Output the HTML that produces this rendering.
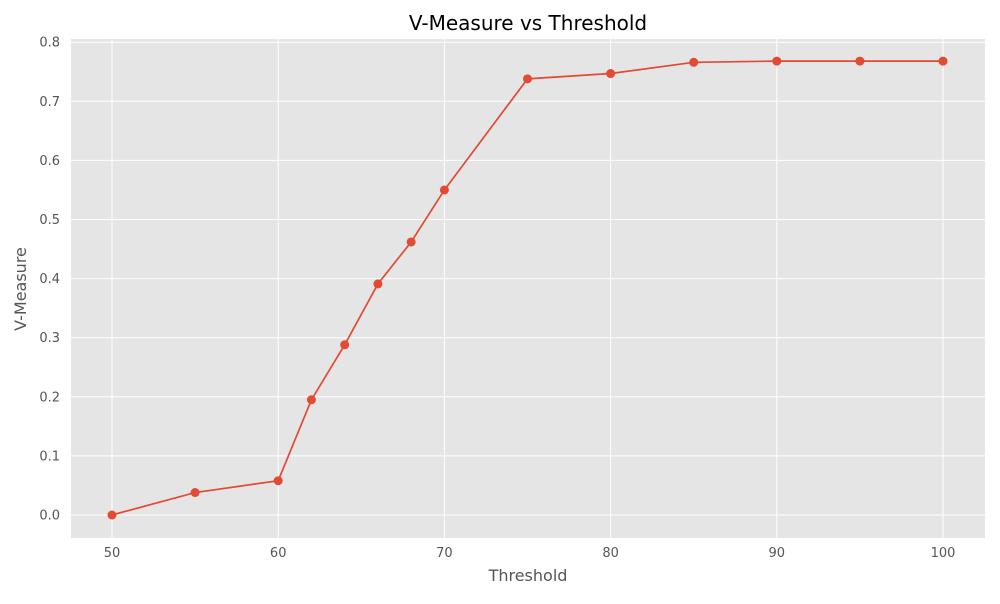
<!DOCTYPE html>
<html><head><meta charset="utf-8"><style>
body{margin:0;background:#fff;font-family:"DejaVu Sans","Liberation Sans",sans-serif;}
svg text{font-family:"DejaVu Sans","Liberation Sans",sans-serif;}
</style></head><body>
<svg id="chart" width="1000" height="600" xmlns="http://www.w3.org/2000/svg">
<rect width="1000" height="600" fill="#fff"/>
<rect x="71" y="39" width="914" height="499" fill="#e5e5e5"/>
<g id="grid"></g><g id="ticks"></g><g id="series"></g>
<text x="528" y="30" text-anchor="middle" font-size="20" fill="#000">V-Measure vs Threshold</text>
<text x="528" y="581" text-anchor="middle" font-size="16" fill="#555">Threshold</text>
<text x="26" y="289" text-anchor="middle" font-size="16" fill="#555" transform="rotate(-90 26 289)">V-Measure</text>
</svg>
<script>
const thresholds=[50,55,60,62,64,66,68,70,75,80,85,90,95,100];
const vmeasure=[0,0.038,0.058,0.195,0.288,0.391,0.462,0.550,0.738,0.747,0.766,0.768,0.768,0.768];
const xTicks=[50,60,70,80,90,100];
const yTicks=[0,0.1,0.2,0.3,0.4,0.5,0.6,0.7,0.8];
const NS="http://www.w3.org/2000/svg";
const sx=v=>112+(v-50)*(943-112)/50;
const sy=v=>515-v*591;
function mk(t,a,p){const e=document.createElementNS(NS,t);for(const k in a)e.setAttribute(k,a[k]);p.appendChild(e);return e;}
const g=document.getElementById('grid'),tk=document.getElementById('ticks'),s=document.getElementById('series');
xTicks.forEach(v=>{
 const l=mk('line',{x1:sx(v),x2:sx(v),y1:39,y2:538,stroke:'#fff','stroke-width':1},g);
 
 
 const t=mk('text',{x:sx(v),y:557,'text-anchor':'middle','font-size':13,fill:'#555'},tk);t.textContent=v;
 
 
});
yTicks.forEach(v=>{
 const l=mk('line',{x1:71,x2:985,y1:sy(v),y2:sy(v),stroke:'#fff','stroke-width':1},g);
 
 
 const t=mk('text',{x:60,y:sy(v)+4.5,'text-anchor':'end','font-size':13,fill:'#555'},tk);t.textContent=v.toFixed(1);
 
 
});
const line=mk('polyline',{points:thresholds.map((x,i)=>sx(x)+','+sy(vmeasure[i])).join(' '),fill:'none',stroke:'#e24a33','stroke-width':1.7},s);


thresholds.forEach((x,i)=>{
 const c=mk('circle',{cx:sx(x),cy:sy(vmeasure[i]),r:4.5,fill:'#e24a33'},s);
 
 
});
</script>
</body></html>
